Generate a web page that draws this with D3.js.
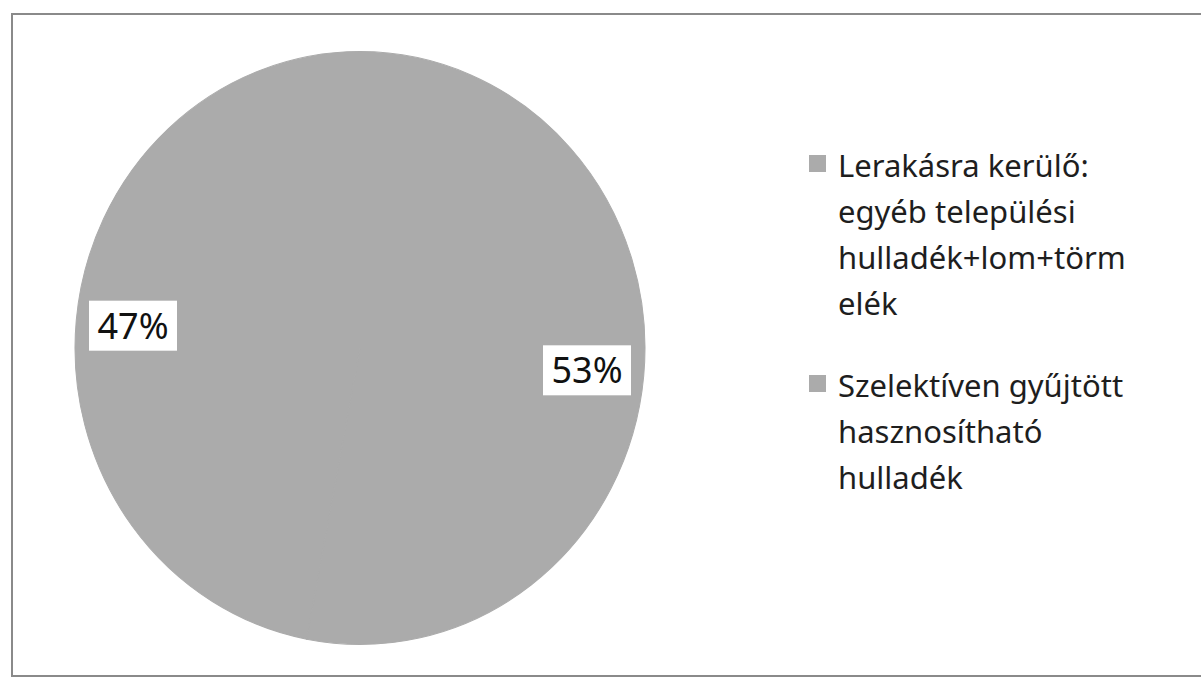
<!DOCTYPE html>
<html>
    <head>
        <meta charset="utf-8">
        <script src="https://d3js.org/d3.v7.min.js"></script>
        <style>
            body { margin: 0; background: #fff; }
        </style>
    </head>
    <body>
    <script>
        var w = 1201;
        var h = 678;

        // data
        var categories = ['Lerakásra kerülő: egyéb települési hulladék+lom+törmelék',
                          'Szelektíven gyűjtött hasznosítható hulladék'];
        var legendLines = [
            ['Lerakásra kerülő:', 'egyéb települési', 'hulladék+lom+törm', 'elék'],
            ['Szelektíven gyűjtött', 'hasznosítható', 'hulladék']
        ];
        var shares = [53, 47];
        var colours = ['#ababab', '#ababab'];

        var cx = 360, cy = 348, r = 285, sy = 1.04;

        var svg = d3.select('body').append('svg')
            .attr('width', w)
            .attr('height', h);

        // chart frame
        svg.append('path')
            .attr('d', 'M1205,14 L12,14 L12,676 L1205,676')
            .attr('fill', 'none')
            .attr('stroke', '#8a8a8a')
            .attr('stroke-width', 2);

        var pie = d3.pie().sort(null).value(function(d){ return d });
        var arcs = pie(shares);
        var arc = d3.arc().innerRadius(0).outerRadius(r);
        var labelArc = d3.arc().innerRadius(r * 0.8).outerRadius(r * 0.8);

        var g = svg.append('g')
            .attr('transform', 'translate(' + cx + ',' + cy + ') scale(1,' + sy + ')');

        g.selectAll('path.slice')
            .data(arcs)
            .enter().append('path')
            .attr('class', 'slice')
            .attr('d', arc)
            .attr('fill', function(d, i){ return colours[i] })
            .attr('stroke', function(d, i){ return colours[i] })
            .attr('stroke-width', 1);

        // data labels, white boxes
        var lab = svg.selectAll('g.lab')
            .data(arcs)
            .enter().append('g')
            .attr('class', 'lab')
            .attr('transform', function(d){
                var c = labelArc.centroid(d);
                return 'translate(' + (cx + c[0]) + ',' + (cy + c[1] * sy) + ')';
            });

        lab.append('rect')
            .attr('x', -44).attr('y', -25)
            .attr('width', 88).attr('height', 50)
            .attr('fill', '#fff');

        lab.append('text')
            .attr('text-anchor', 'middle')
            .attr('y', 13)
            .style('font-family', '"Noto Sans", sans-serif')
            .style('font-size', '36px')
            .attr('fill', '#111')
            .text(function(d){ return d.data + '%' });

        // legend
        var legY = [177, 397];
        var leg = svg.selectAll('g.leg')
            .data(legendLines)
            .enter().append('g')
            .attr('class', 'leg');

        leg.append('rect')
            .attr('x', 809)
            .attr('y', function(d, i){ return legY[i] - 22 })
            .attr('width', 17).attr('height', 17)
            .attr('fill', function(d, i){ return colours[i] });

        leg.each(function(lines, i){
            d3.select(this).selectAll('text')
                .data(lines)
                .enter().append('text')
                .attr('x', 838)
                .attr('y', function(d, j){ return legY[i] + j * 46 })
                .style('font-family', '"Noto Sans", sans-serif')
                .style('font-size', '31px')
                .attr('fill', '#1e1e1e')
                .text(function(d){ return d });
        });
    </script>
    </body>
</html>
